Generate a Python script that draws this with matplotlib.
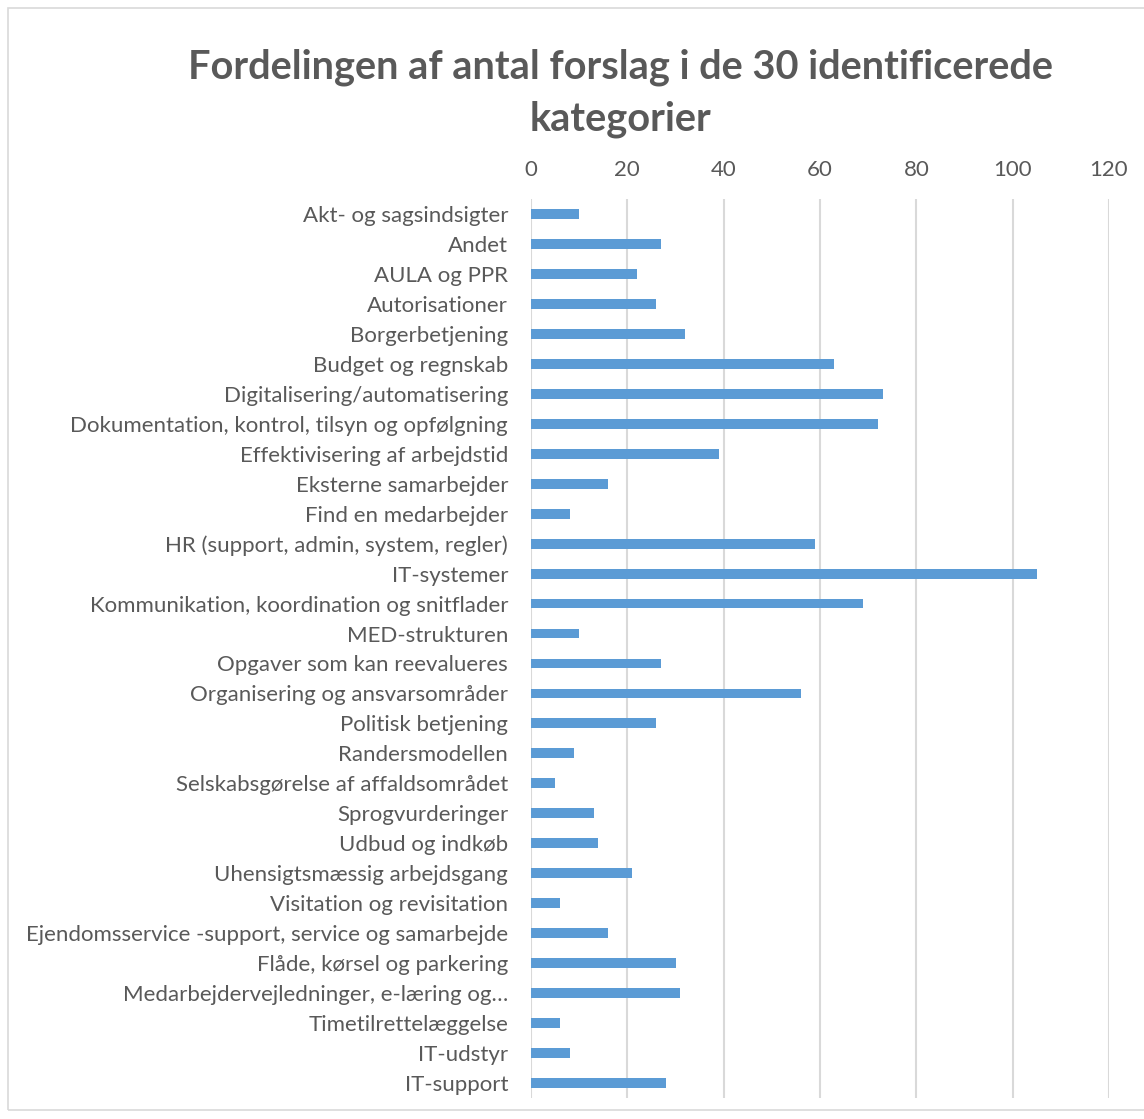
import matplotlib
matplotlib.use("Agg")
import matplotlib.pyplot as plt
from matplotlib.patches import Rectangle

categories = [
    "Akt- og sagsindsigter",
    "Andet",
    "AULA og PPR",
    "Autorisationer",
    "Borgerbetjening",
    "Budget og regnskab",
    "Digitalisering/automatisering",
    "Dokumentation, kontrol, tilsyn og opfølgning",
    "Effektivisering af arbejdstid",
    "Eksterne samarbejder",
    "Find en medarbejder",
    "HR (support, admin, system, regler)",
    "IT-systemer",
    "Kommunikation, koordination og snitflader",
    "MED-strukturen",
    "Opgaver som kan reevalueres",
    "Organisering og ansvarsområder",
    "Politisk betjening",
    "Randersmodellen",
    "Selskabsgørelse af affaldsområdet",
    "Sprogvurderinger",
    "Udbud og indkøb",
    "Uhensigtsmæssig arbejdsgang",
    "Visitation og revisitation",
    "Ejendomsservice -support, service og samarbejde",
    "Flåde, kørsel og parkering",
    "Medarbejdervejledninger, e-læring og…",
    "Timetilrettelæggelse",
    "IT-udstyr",
    "IT-support",
]
values = [10, 27, 22, 26, 32, 63, 73, 72, 39, 16, 8, 59, 105, 69, 10,
          27, 56, 26, 9, 5, 13, 14, 21, 6, 16, 30, 31, 6, 8, 28]
x_ticks = [0, 20, 40, 60, 80, 100, 120]
title = "Fordelingen af antal forslag i de 30 identificerede\nkategorier"

plt.rcParams['font.family'] = ['Lato', 'DejaVu Sans']
W, H = 1144, 1119
fig = plt.figure(figsize=(W / 100, H / 100), dpi=100)

fig.patches.append(Rectangle((8 / W, 1 - 1110 / H), 1.0, (1110 - 8) / H,
                             transform=fig.transFigure, fill=False,
                             edgecolor="#d9d9d9", linewidth=1.2))

ax = fig.add_axes([531 / W, 1 - 1098 / H, (1109 - 531) / W, (1098 - 199) / H])
ypos = list(range(len(categories)))
ax.barh(ypos, values, height=0.33, color="#5b9bd5", zorder=3)
ax.set_ylim(len(categories) - 0.5, -0.5)
ax.set_xlim(0, 120)
ax.set_xticks(x_ticks)
ax.set_yticks(ypos)
ax.set_yticklabels(categories)
ax.xaxis.tick_top()
ax.tick_params(axis="x", length=0, pad=13.5, labelsize=16, labelcolor="#595959")
ax.tick_params(axis="y", length=0, pad=16.5, labelsize=16, labelcolor="#595959")
ax.grid(axis="x", color="#d9d9d9", linewidth=1.5, zorder=0)
for s in ax.spines.values():
    s.set_visible(False)

fig.text(621 / W, 1 - 93 / H, title, ha="center", va="center",
         fontsize=28.6, fontweight="bold", color="#595959", linespacing=1.5)

fig.savefig("out.png", dpi=100)
